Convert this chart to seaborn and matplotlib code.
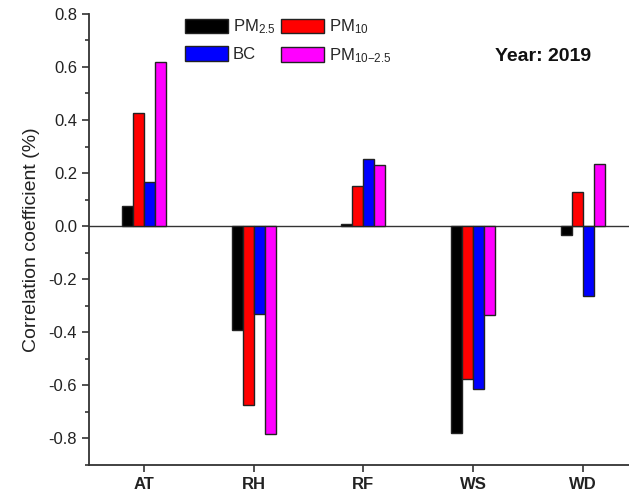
import matplotlib
matplotlib.use("Agg")
import matplotlib.pyplot as plt
from matplotlib.ticker import MultipleLocator
import seaborn as sns
import pandas as pd

# Meteorological parameters and correlation coefficients for each pollutant
params = ["AT", "RH", "RF", "WS", "WD"]
pm25 = [0.075, -0.39, 0.01, -0.78, -0.035]
pm10 = [0.425, -0.675, 0.15, -0.575, 0.13]
bc = [0.165, -0.33, 0.255, -0.615, -0.265]
pm10_25 = [0.62, -0.785, 0.23, -0.335, 0.235]
series_labels = [r"PM$_{2.5}$", r"PM$_{10}$", "BC", r"PM$_{10\mathsf{-}2.5}$"]
colors = ["#000000", "#ff0000", "#0000ff", "#ff00ff"]

rows = []
for name, vals in zip(series_labels, [pm25, pm10, bc, pm10_25]):
    for p, v in zip(params, vals):
        rows.append({"param": p, "value": v, "series": name})
df = pd.DataFrame(rows)

sns.set_style("ticks")
plt.rcParams["font.family"] = ["Liberation Sans", "DejaVu Sans"]
plt.rcParams["mathtext.fontset"] = "custom"
plt.rcParams["mathtext.rm"] = "Liberation Sans"
plt.rcParams["mathtext.sf"] = "Liberation Sans"
plt.rcParams["mathtext.it"] = "Liberation Sans"

fig = plt.figure(figsize=(6.29, 4.96), dpi=100)
ax = fig.add_axes([0.1415, 0.0625, 0.8585, 0.9095])

sns.barplot(data=df, x="param", y="value", hue="series", order=params,
            hue_order=series_labels, palette=colors, width=0.4,
            edgecolor="#222222", linewidth=1.0, saturation=1, ax=ax)

ax.axhline(0, color="#333333", linewidth=1.0, zorder=0.5)
ax.set_ylim(-0.9, 0.8)
ax.set_xlim(-0.5, 4.42)
ax.yaxis.set_minor_locator(MultipleLocator(0.1))
ax.set_yticks([-0.8, -0.6, -0.4, -0.2, 0.0, 0.2, 0.4, 0.6, 0.8])
ax.set_yticklabels(["-0.8", "-0.6", "-0.4", "-0.2", "0.0", "0.2", "0.4", "0.6", "0.8"])
ax.tick_params(axis="both", direction="out", length=5, width=1.2, colors="#333333",
               labelcolor="#222222", labelsize=12)
ax.tick_params(axis="y", which="minor", direction="out", length=3, width=1.2, colors="#333333")
for lbl in ax.get_xticklabels():
    lbl.set_fontweight("bold")
ax.set_xlabel("")
ax.set_ylabel("Correlation coefficient (%)", fontsize=14, color="#222222", labelpad=6)

for side in ["top", "right"]:
    ax.spines[side].set_visible(False)
for side in ["left", "bottom"]:
    ax.spines[side].set_linewidth(1.3)
    ax.spines[side].set_color("#333333")

# Legend laid out row by row: PM2.5, PM10 / BC, PM10-2.5
handles, labels = ax.get_legend_handles_labels()
order = [0, 2, 1, 3]
ax.legend([handles[i] for i in order], [labels[i] for i in order], ncol=2,
          loc="upper left", bbox_to_anchor=(0.15, 1.025),
          frameon=False, fontsize=12, handlelength=2.55, handleheight=0.95,
          columnspacing=0.35, handletextpad=0.3, labelspacing=0.6)

ax.text(0.84, 0.905, "Year: 2019", transform=ax.transAxes, fontsize=14,
        fontweight="bold", ha="center", va="center", color="#111111")

fig.savefig("out.png", dpi=100)
